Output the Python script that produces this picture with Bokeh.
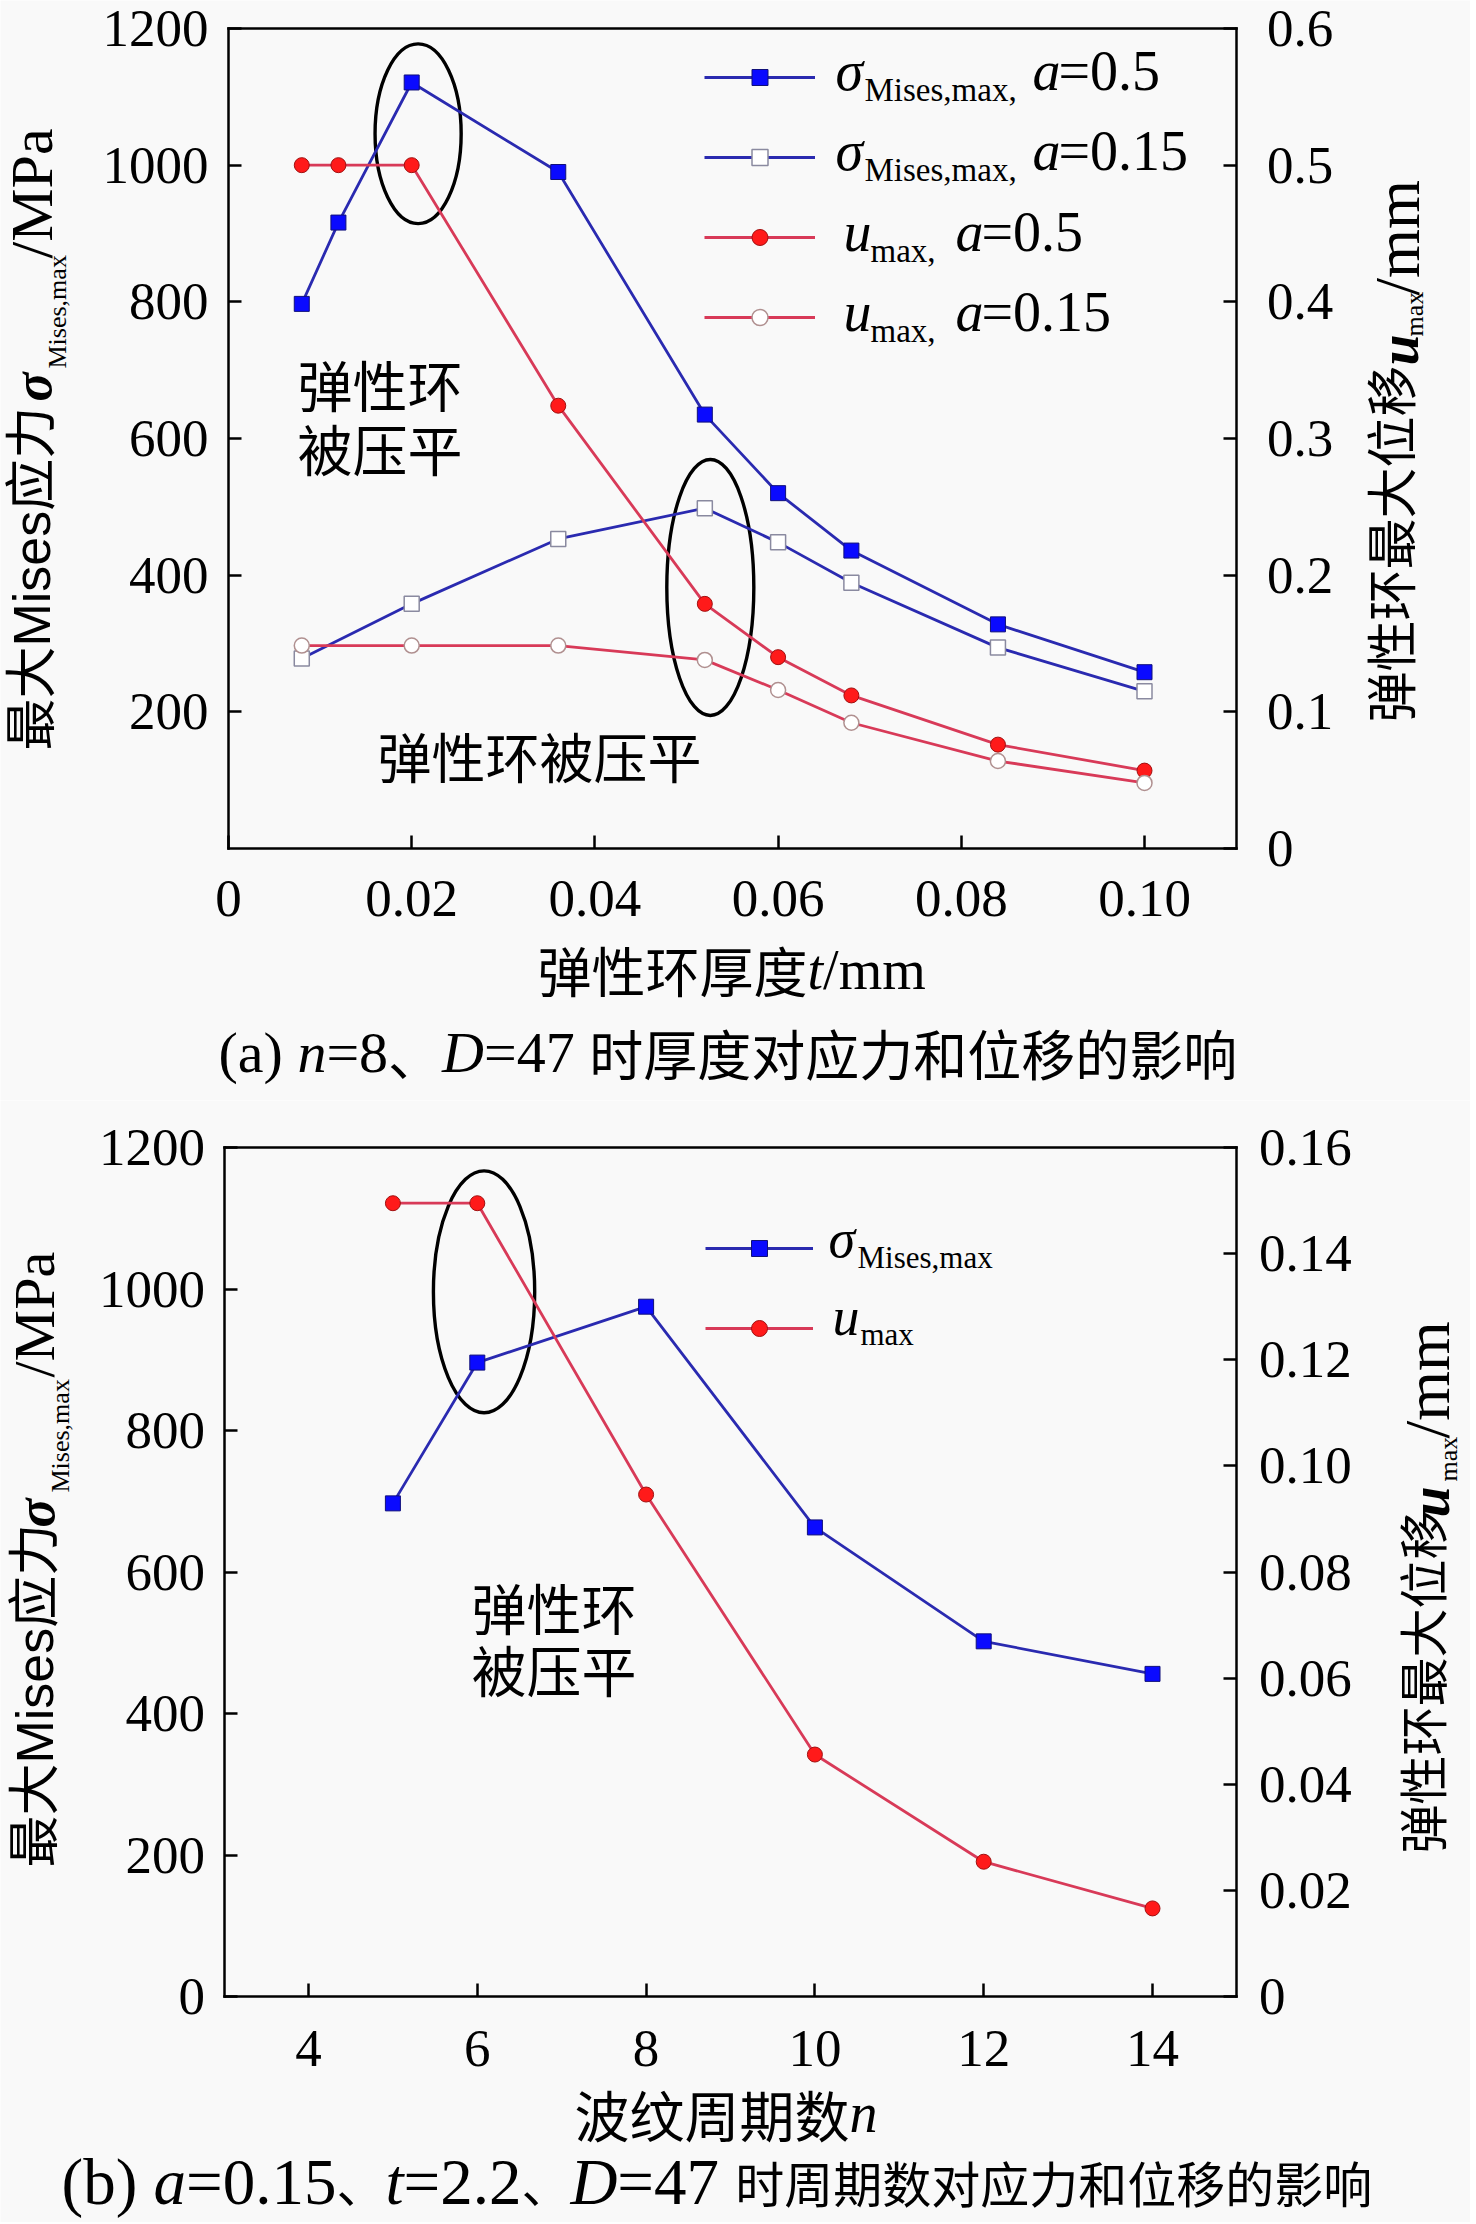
from math import pi
from bokeh.plotting import figure
from bokeh.models import (Range1d, LinearAxis, FixedTicker, Label, Legend, LegendItem,
                          PrintfTickFormatter)
from bokeh.layouts import column
from bokeh.embed import file_html
from bokeh.resources import INLINE

# ---------------- data (a): effect of thickness t ----------------
t_a05 = [0.008, 0.012, 0.020, 0.036, 0.052, 0.060, 0.068, 0.084, 0.100]
sigma_a05 = [797, 916, 1121, 990, 635, 520, 436, 328, 258]
u_a05 = [0.500, 0.500, 0.500, 0.324, 0.179, 0.140, 0.112, 0.076, 0.057]
t_a015 = [0.008, 0.020, 0.036, 0.052, 0.060, 0.068, 0.084, 0.100]
sigma_a015 = [278, 358, 453, 498, 448, 389, 294, 230]
u_a015 = [0.1485, 0.1485, 0.1485, 0.138, 0.116, 0.092, 0.064, 0.048]

# ---------------- data (b): effect of period number n ----------------
n_b = [5, 6, 8, 10, 12, 14]
sigma_b = [697, 896, 975, 663, 502, 456]
u_b = [0.1495, 0.1495, 0.0946, 0.0456, 0.0254, 0.0166]

# ellipses marking "ring flattened"
ell_a_x = [0.0207, 0.0526]
ell_a_y = [1046, 382]
ell_a_w = [0.0094, 0.0095]
ell_a_h = [263, 375]
ell_b_x = [6.08]
ell_b_y = [996]
ell_b_w = [1.2]
ell_b_h = [342]

# axes extents and ticks
xlim_a = (0, 0.11)
ylim_a = (0, 1200)
ulim_a = (0, 0.6)
xlim_b = (3, 15)
ylim_b = (0, 1200)
ulim_b = (0, 0.16)
xt_a = [0, 0.02, 0.04, 0.06, 0.08, 0.10]
yl_a = [200, 400, 600, 800, 1000, 1200]
yr_a = [0, 0.1, 0.2, 0.3, 0.4, 0.5, 0.6]
xt_b = [4, 6, 8, 10, 12, 14]
yl_b = [0, 200, 400, 600, 800, 1000, 1200]
yr_b = [0, 0.02, 0.04, 0.06, 0.08, 0.10, 0.12, 0.14, 0.16]

W = 1470
H1 = 1100
H2 = 1122
BG = "#f9f9f9"
BLUE_LINE = "#2a2ab0"
RED_LINE = "#d83a58"
BLUE_FILL = "#0a0aff"
RED_FILL = "#ff1a1a"
LW = 2.8
SERIF = "'Liberation Serif', 'Noto Sans CJK SC'"
SANSMIX = "'Liberation Sans', 'Noto Sans CJK SC'"
CJK = "'Noto Sans CJK SC'"

# Times / Liberation Serif advance widths (em) for laying out mixed runs
W_REG = {"(": 0.333, ")": 0.333, " ": 0.25, "a": 0.444, "b": 0.5, "=": 0.564, ".": 0.25,
         "/": 0.278, "m": 0.778, "M": 0.889, "P": 0.556}
W_IT = {"n": 0.5, "D": 0.722, "a": 0.5, "t": 0.278, "u": 0.5}


def text_width(s, size, style):
    w = 0.0
    for ch in s:
        if ord(ch) > 0x2E80:
            w += 1.0
        elif ch.isdigit():
            w += 0.5
        elif "italic" in style:
            w += W_IT.get(ch, 0.5)
        else:
            w += W_REG.get(ch, 0.5)
    return w * size


def x_range_for(d0, d1, p0, p1, c0, c1):
    s = (d1 - d0) / (p1 - p0)
    return Range1d(d0 - (p0 - c0) * s, d1 + (c1 - p1) * s)


def y_range_for(d0, d1, p0, p1, c0, c1):
    # p0: pixel row of d0 (lower), p1: pixel row of d1 (upper); c0/c1 canvas top/bottom rows
    s = (d1 - d0) / (p0 - p1)
    return Range1d(d0 - (c1 - p0) * s, d1 + (p1 - c0) * s)


def style_axis(ax, ticks, standoff, fmt=None, overrides=None):
    ax.ticker = FixedTicker(ticks=ticks)
    ax.major_tick_in = 13
    ax.major_tick_out = 0
    ax.minor_tick_line_color = None
    ax.axis_line_width = 2.5
    ax.axis_line_color = "black"
    ax.axis_line_cap = "square"
    ax.major_tick_line_width = 2.5
    ax.major_tick_line_color = "black"
    ax.major_label_text_font = "Liberation Serif"
    ax.major_label_text_font_size = "53px"
    ax.major_label_text_color = "black"
    ax.major_label_standoff = standoff
    if fmt:
        ax.formatter = PrintfTickFormatter(format=fmt)
    if overrides:
        ax.major_label_overrides = overrides


def add_text(p, bottom, X, Y, s, size, font=SERIF, style="normal", angle=0.0):
    """X, Y: page pixel position of the text start / vertical middle."""
    p.add_layout(Label(x=X, y=bottom - Y, x_units="screen", y_units="screen", text=s,
                       text_font=font, text_font_size=f"{size}px", text_font_style=style,
                       text_color="black", angle=angle, text_align="left",
                       text_baseline="middle"))


def add_run(p, bottom, X, Y, segs):
    for s, size, style, font in segs:
        add_text(p, bottom, X, Y, s, size, font=font, style=style)
        X += text_width(s, size, style)


def make_fig(height, xr, yr, ur, xlim, ylim, ulim, xt, yl, ur_t, xfmt, xov, yfmt, ufmt, uov,
             sx, sl, sr):
    p = figure(width=W, height=height, x_range=xr, y_range=yr, title=None,
               x_axis_type=None, y_axis_type=None,
               output_backend="svg", toolbar_location=None, min_border=0,
               background_fill_color=BG, border_fill_color=BG, outline_line_color=None)
    p.extra_y_ranges = {"u": ur}
    ax_b = LinearAxis(fixed_location=ylim[0], bounds=xlim)
    style_axis(ax_b, xt, sx, xfmt, xov)
    p.add_layout(ax_b, "below")
    ax_l = LinearAxis(fixed_location=xlim[0], bounds=ylim)
    style_axis(ax_l, yl, sl, yfmt)
    p.add_layout(ax_l, "left")
    ax_r = LinearAxis(y_range_name="u", fixed_location=xlim[1], bounds=ulim)
    style_axis(ax_r, ur_t, sr, ufmt, uov)
    p.add_layout(ax_r, "right")
    ax_t = LinearAxis(fixed_location=ylim[1], bounds=xlim)
    style_axis(ax_t, [], 0)
    ax_t.major_tick_line_color = None
    p.add_layout(ax_t, "above")
    return p


# =============================== figure (a) ===============================
# plot box of (a): x 0 -> px 228, 0.10 -> px 1144 ; y 0 -> row 848, 1200 -> row 28
pa = make_fig(H1,
              x_range_for(0, 0.10, 228, 1144, 0, W),
              y_range_for(0, 1200, 848, 28, 0, H1),
              y_range_for(0, 0.6, 848, 28, 0, H1),
              xlim_a, ylim_a, ulim_a, xt_a, yl_a, yr_a,
              "%.2f", {0: "0"}, "%d", "%.1f", {0: "0"}, 32, 20, 31)

pa.ellipse(ell_a_x, ell_a_y, width=ell_a_w, height=ell_a_h, fill_color=None,
           line_color="black", line_width=3.4)

la1 = pa.line(t_a05, sigma_a05, line_color=BLUE_LINE, line_width=LW)
la2 = pa.line(t_a015, sigma_a015, line_color=BLUE_LINE, line_width=LW)
la3 = pa.line(t_a05, u_a05, line_color=RED_LINE, line_width=LW, y_range_name="u")
la4 = pa.line(t_a015, u_a015, line_color=RED_LINE, line_width=LW, y_range_name="u")
sa1 = pa.scatter(t_a05, sigma_a05, marker="square", size=15, fill_color=BLUE_FILL,
                 line_color="#10107a", line_width=1)
sa2 = pa.scatter(t_a015, sigma_a015, marker="square", size=15, fill_color="white",
                 line_color="#8a8aa0", line_width=1.5)
sa3 = pa.scatter(t_a05, u_a05, marker="circle", size=15, fill_color=RED_FILL,
                 line_color="#a01010", line_width=1, y_range_name="u")
sa4 = pa.scatter(t_a015, u_a015, marker="circle", size=15, fill_color="white",
                 line_color="#b09090", line_width=1.5, y_range_name="u")

leg_a = Legend(items=[LegendItem(label=" ", renderers=[la1, sa1]),
                      LegendItem(label=" ", renderers=[la2, sa2]),
                      LegendItem(label=" ", renderers=[la3, sa3]),
                      LegendItem(label=" ", renderers=[la4, sa4])],
               location=(704, H1 - 57 - 280), glyph_width=111, glyph_height=40, spacing=40,
               padding=0, margin=0, border_line_color=None, background_fill_alpha=0,
               label_text_font_size="1px", label_height=1, label_width=1, label_standoff=0)
pa.add_layout(leg_a)

# legend texts (page positions: start x, vertical middle)
for mid, tail in [(70, "=0.5"), (150, "=0.15")]:
    add_text(pa, H1, 835, mid, "σ", 56, style="italic")
    add_text(pa, H1, 864, mid + 19, "Mises,max,", 33)
    add_text(pa, H1, 1032, mid, "a", 56, style="italic")
    add_text(pa, H1, 1058, mid, tail, 56)
for mid, tail in [(231, "=0.5"), (311, "=0.15")]:
    add_text(pa, H1, 843, mid, "u", 56, style="italic")
    add_text(pa, H1, 870, mid + 19, "max,", 33)
    add_text(pa, H1, 955, mid, "a", 56, style="italic")
    add_text(pa, H1, 981, mid, tail, 56)

# annotations
add_text(pa, H1, 297, 382, "弹性环", 55, font=CJK)
add_text(pa, H1, 297, 446, "被压平", 55, font=CJK)
add_text(pa, H1, 377, 755, "弹性环被压平", 54, font=CJK)

# left axis title (rotated, reading upward)
add_text(pa, H1, 31, 750, "最大Mises应力", 52, font=SANSMIX, angle=pi / 2)
add_text(pa, H1, 32, 401, "σ", 54, style="bold italic", angle=pi / 2)
add_text(pa, H1, 57, 368, "Mises,max", 26, angle=pi / 2)
add_text(pa, H1, 31, 258, "/MPa", 60, angle=pi / 2)
# right axis title (rotated)
add_text(pa, H1, 1388, 722, "弹性环最大位移", 51, font=CJK, angle=pi / 2)
add_text(pa, H1, 1398, 365, "u", 56, style="bold italic", angle=pi / 2)
add_text(pa, H1, 1414, 336, "max", 26, angle=pi / 2)
add_text(pa, H1, 1397, 295, "/mm", 63, angle=pi / 2)
# x axis title
add_run(pa, H1, 537, 969, [("弹性环厚度", 54, "normal", CJK), ("t", 56, "italic", SERIF),
                           ("/mm", 56, "normal", SERIF)])
# caption
add_run(pa, H1, 218, 1052, [("(a) ", 58, "normal", SERIF), ("n", 58, "italic", SERIF),
                            ("=8", 58, "normal", SERIF), ("、", 54, "normal", CJK),
                            ("D", 58, "italic", SERIF), ("=47 ", 58, "normal", SERIF),
                            ("时厚度对应力和位移的影响", 54, "normal", CJK)])

# =============================== figure (b) ===============================
T2 = H1            # page row where figure (b) starts
B2 = H1 + H2       # page row where figure (b) ends
pb = make_fig(H2,
              x_range_for(4, 14, 308, 1152, 0, W),
              y_range_for(0, 1200, 1996, 1147, T2, B2),
              y_range_for(0, 0.16, 1996, 1147, T2, B2),
              xlim_b, ylim_b, ulim_b, xt_b, yl_b, yr_b,
              "%d", None, "%d", "%.2f", {0: "0"}, 34, 19, 22)

pb.ellipse(ell_b_x, ell_b_y, width=ell_b_w, height=ell_b_h, fill_color=None,
           line_color="black", line_width=3.4)

lb1 = pb.line(n_b, sigma_b, line_color=BLUE_LINE, line_width=LW)
lb2 = pb.line(n_b, u_b, line_color=RED_LINE, line_width=LW, y_range_name="u")
sb1 = pb.scatter(n_b, sigma_b, marker="square", size=15, fill_color=BLUE_FILL,
                 line_color="#10107a", line_width=1)
sb2 = pb.scatter(n_b, u_b, marker="circle", size=15, fill_color=RED_FILL,
                 line_color="#a01010", line_width=1, y_range_name="u")

leg_b = Legend(items=[LegendItem(label=" ", renderers=[lb1, sb1]),
                      LegendItem(label=" ", renderers=[lb2, sb2])],
               location=(705, B2 - 1228 - 120), glyph_width=108, glyph_height=40, spacing=40,
               padding=0, margin=0, border_line_color=None, background_fill_alpha=0,
               label_text_font_size="1px", label_height=1, label_width=1, label_standoff=0)
pb.add_layout(leg_b)

add_text(pb, B2, 828, 1238, "σ", 54, style="italic")
add_text(pb, B2, 857, 1257, "Mises,max", 31)
add_text(pb, B2, 832, 1316, "u", 54, style="italic")
add_text(pb, B2, 860, 1334, "max", 31)

add_text(pb, B2, 471, 1605, "弹性环", 55, font=CJK)
add_text(pb, B2, 471, 1667, "被压平", 55, font=CJK)

add_text(pb, B2, 34, 1867, "最大Mises应力", 52, font=SANSMIX, angle=pi / 2)
add_text(pb, B2, 35, 1527, "σ", 54, style="bold italic", angle=pi / 2)
add_text(pb, B2, 60, 1492, "Mises,max", 26, angle=pi / 2)
add_text(pb, B2, 34, 1377, "/MPa", 58, angle=pi / 2)

add_text(pb, B2, 1420, 1853, "弹性环最大位移", 49, font=CJK, angle=pi / 2)
add_text(pb, B2, 1429, 1517, "u", 56, style="bold italic", angle=pi / 2)
add_text(pb, B2, 1448, 1481, "max", 26, angle=pi / 2)
add_text(pb, B2, 1427, 1438, "/mm", 64, angle=pi / 2)

add_run(pb, B2, 574, 2112, [("波纹周期数", 55, "normal", CJK), ("n", 56, "italic", SERIF)])

add_run(pb, B2, 61, 2181, [("(b) ", 65, "normal", SERIF), ("a", 65, "italic", SERIF),
                           ("=0.15", 65, "normal", SERIF), ("、", 49, "normal", CJK),
                           ("t", 65, "italic", SERIF), ("=2.2", 65, "normal", SERIF),
                           ("、", 49, "normal", CJK), ("D", 65, "italic", SERIF),
                           ("=47 ", 65, "normal", SERIF),
                           ("时周期数对应力和位移的影响", 49, "normal", CJK)])

layout = column(pa, pb)
html = file_html(layout, INLINE, title="plot")
html = html.replace("<body>", "<body style=\"background:#f9f9f9\">", 1)
open("out.html", "w").write(html)
